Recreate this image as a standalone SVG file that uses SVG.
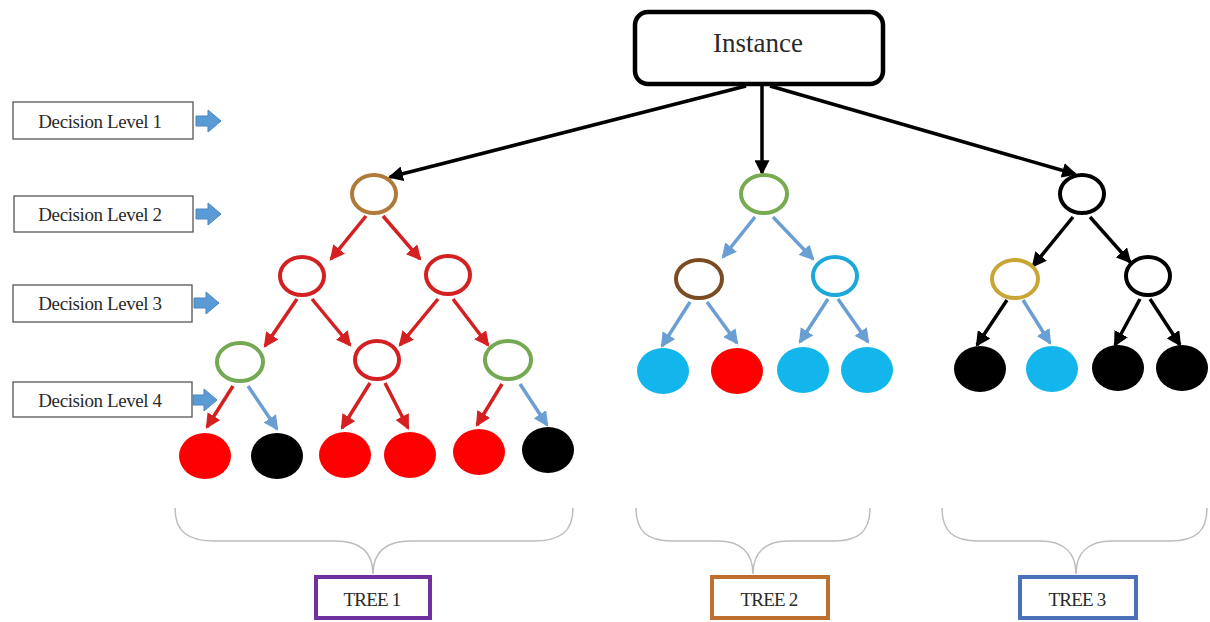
<svg xmlns="http://www.w3.org/2000/svg" width="1210" height="622" viewBox="0 0 1210 622">
  <style>
    .lbl { font-family: "Liberation Serif", "Times New Roman", serif; fill: #2a2a2a; text-anchor: middle; dominant-baseline: central; }
    .lvl rect { fill: #fff; stroke: #555; stroke-width: 1.3; }
    .lvl text { font-size: 19px; letter-spacing: -0.4px; }
    .blk { fill: #5b9bd5; stroke: #4a86c0; stroke-width: 1; }
    .node { fill: #fff; stroke-width: 4; }
    .leaf { stroke: none; }
    .e-red { stroke: #d42020; stroke-width: 3.5; fill: none; marker-end: url(#ahRed); }
    .e-blue { stroke: #6a9fd4; stroke-width: 3.5; fill: none; marker-end: url(#ahBlue); }
    .e-blk { stroke: #000; stroke-width: 3.5; fill: none; marker-end: url(#ahBlk); }
    .brace { fill: none; stroke: #bdbdbd; stroke-width: 1.5; }
    .tree rect { fill: #fff; stroke-width: 4; }
    .tree text { font-size: 19px; letter-spacing: -0.8px; }
  </style>
  <defs>
    <marker id="ahRed" viewBox="0 0 14 14" refX="12" refY="7" markerWidth="15" markerHeight="15" markerUnits="userSpaceOnUse" orient="auto">
      <path d="M0,0 L14,7 L0,14 z" fill="#d42020"/>
    </marker>
    <marker id="ahBlue" viewBox="0 0 14 14" refX="12" refY="7" markerWidth="15" markerHeight="15" markerUnits="userSpaceOnUse" orient="auto">
      <path d="M0,0 L14,7 L0,14 z" fill="#6a9fd4"/>
    </marker>
    <marker id="ahBlk" viewBox="0 0 14 14" refX="12" refY="7" markerWidth="15" markerHeight="15" markerUnits="userSpaceOnUse" orient="auto">
      <path d="M0,0 L14,7 L0,14 z" fill="#000"/>
    </marker>
  </defs>

  <rect width="1210" height="622" fill="#fff"/>

  <!-- Top instance box -->
  <g id="instance">
    <rect x="635" y="12" width="248" height="72" rx="13" fill="#fff" stroke="#000" stroke-width="4.5"/>
    <text class="lbl" x="758" y="43" font-size="27">Instance</text>
  </g>

  <!-- Decision level labels with block arrows -->
  <g id="level1" class="lvl">
    <rect x="13" y="102" width="180" height="37"/>
    <text class="lbl" x="100" y="121">Decision Level 1</text>
    <polygon class="blk" points="196,116 208,116 208,110 221,121 208,132 208,126 196,126"/>
  </g>
  <g id="level2" class="lvl">
    <rect x="14" y="196" width="179" height="36"/>
    <text class="lbl" x="100" y="214">Decision Level 2</text>
    <polygon class="blk" points="196,209 208,209 208,203 221,214 208,225 208,219 196,219"/>
  </g>
  <g id="level3" class="lvl">
    <rect x="13" y="285" width="179" height="37"/>
    <text class="lbl" x="100" y="303">Decision Level 3</text>
    <polygon class="blk" points="194,298 206,298 206,292 219,303 206,314 206,308 194,308"/>
  </g>
  <g id="level4" class="lvl">
    <rect x="13" y="382" width="179" height="35"/>
    <text class="lbl" x="100" y="400">Decision Level 4</text>
    <polygon class="blk" points="193,395 204,395 204,389 217,400 204,411 204,405 193,405"/>
  </g>

  <!-- Connectors -->
  <g id="connectors">
    <!-- from instance -->
    <line class="e-blk" x1="746" y1="86" x2="390" y2="177"/>
    <line class="e-blk" x1="762" y1="86" x2="762" y2="173"/>
    <line class="e-blk" x1="770" y1="86" x2="1075" y2="174"/>
    <!-- tree 1 -->
    <line class="e-red" x1="366" y1="216" x2="331" y2="259"/>
    <line class="e-red" x1="383" y1="216" x2="420" y2="259"/>
    <line class="e-red" x1="297" y1="299" x2="265" y2="346"/>
    <line class="e-red" x1="312" y1="299" x2="350" y2="345"/>
    <line class="e-red" x1="438" y1="299" x2="400" y2="345"/>
    <line class="e-red" x1="453" y1="299" x2="488" y2="345"/>
    <line class="e-red" x1="233" y1="386" x2="207" y2="427"/>
    <line class="e-blue" x1="248" y1="386" x2="277" y2="429"/>
    <line class="e-red" x1="370" y1="383" x2="342" y2="428"/>
    <line class="e-red" x1="385" y1="383" x2="408" y2="428"/>
    <line class="e-red" x1="502" y1="384" x2="477" y2="425"/>
    <line class="e-blue" x1="520" y1="384" x2="547" y2="425"/>
    <!-- tree 2 -->
    <line class="e-blue" x1="755" y1="217" x2="723" y2="257"/>
    <line class="e-blue" x1="773" y1="217" x2="813" y2="259"/>
    <line class="e-blue" x1="690" y1="302" x2="662" y2="346"/>
    <line class="e-blue" x1="707" y1="302" x2="737" y2="343"/>
    <line class="e-blue" x1="828" y1="299" x2="800" y2="342"/>
    <line class="e-blue" x1="838" y1="299" x2="868" y2="342"/>
    <!-- tree 3 -->
    <line class="e-blk" x1="1073" y1="217" x2="1033" y2="266"/>
    <line class="e-blk" x1="1090" y1="217" x2="1130" y2="262"/>
    <line class="e-blk" x1="1007" y1="300" x2="977" y2="345"/>
    <line class="e-blue" x1="1023" y1="300" x2="1050" y2="343"/>
    <line class="e-blk" x1="1140" y1="299" x2="1115" y2="345"/>
    <line class="e-blk" x1="1150" y1="299" x2="1180" y2="345"/>
  </g>

  <!-- Tree 1 nodes -->
  <g id="t1-root"><ellipse class="node" cx="374" cy="194" rx="22" ry="19" stroke="#b07a3a"/></g>
  <g id="t1-l2a"><ellipse class="node" cx="302" cy="276" rx="22" ry="19" stroke="#d42020"/></g>
  <g id="t1-l2b"><ellipse class="node" cx="448" cy="275" rx="22" ry="19" stroke="#d42020"/></g>
  <g id="t1-l3a"><ellipse class="node" cx="240" cy="362" rx="23" ry="19" stroke="#74a852"/></g>
  <g id="t1-l3b"><ellipse class="node" cx="377" cy="360" rx="22" ry="19" stroke="#d42020"/></g>
  <g id="t1-l3c"><ellipse class="node" cx="508" cy="360" rx="23" ry="19" stroke="#74a852"/></g>
  <g id="t1-leaf1"><ellipse class="leaf" cx="205" cy="456" rx="26" ry="23" fill="#f00"/></g>
  <g id="t1-leaf2"><ellipse class="leaf" cx="277" cy="456" rx="26" ry="23" fill="#000"/></g>
  <g id="t1-leaf3"><ellipse class="leaf" cx="345" cy="455" rx="26" ry="23" fill="#f00"/></g>
  <g id="t1-leaf4"><ellipse class="leaf" cx="410" cy="455" rx="26" ry="23" fill="#f00"/></g>
  <g id="t1-leaf5"><ellipse class="leaf" cx="479" cy="452" rx="26" ry="23" fill="#f00"/></g>
  <g id="t1-leaf6"><ellipse class="leaf" cx="548" cy="450" rx="26" ry="23" fill="#000"/></g>

  <!-- Tree 2 nodes -->
  <g id="t2-root"><ellipse class="node" cx="764" cy="194" rx="23" ry="19" stroke="#78aa50"/></g>
  <g id="t2-l2a"><ellipse class="node" cx="699" cy="279" rx="23" ry="19" stroke="#7b4b22"/></g>
  <g id="t2-l2b"><ellipse class="node" cx="835" cy="276" rx="22" ry="19" stroke="#1ca8d8"/></g>
  <g id="t2-leaf1"><ellipse class="leaf" cx="663" cy="371" rx="26" ry="23" fill="#12b5ec"/></g>
  <g id="t2-leaf2"><ellipse class="leaf" cx="737" cy="371" rx="26" ry="23" fill="#f00"/></g>
  <g id="t2-leaf3"><ellipse class="leaf" cx="803" cy="370" rx="26" ry="23" fill="#12b5ec"/></g>
  <g id="t2-leaf4"><ellipse class="leaf" cx="867" cy="370" rx="26" ry="23" fill="#12b5ec"/></g>

  <!-- Tree 3 nodes -->
  <g id="t3-root"><ellipse class="node" cx="1082" cy="194" rx="22" ry="19" stroke="#000"/></g>
  <g id="t3-l2a"><ellipse class="node" cx="1015" cy="279" rx="23" ry="19" stroke="#c8a535"/></g>
  <g id="t3-l2b"><ellipse class="node" cx="1148" cy="276" rx="22" ry="19" stroke="#000"/></g>
  <g id="t3-leaf1"><ellipse class="leaf" cx="980" cy="369" rx="26" ry="23" fill="#000"/></g>
  <g id="t3-leaf2"><ellipse class="leaf" cx="1052" cy="369" rx="26" ry="23" fill="#12b5ec"/></g>
  <g id="t3-leaf3"><ellipse class="leaf" cx="1118" cy="368" rx="26" ry="23" fill="#000"/></g>
  <g id="t3-leaf4"><ellipse class="leaf" cx="1182" cy="368" rx="26" ry="23" fill="#000"/></g>

  <!-- Braces and tree labels -->
  <g id="tree1" class="tree">
    <path class="brace" d="M175,508 C175,532 188,541 215,541 L335,541 C360,541 373,552 373,574 C373,552 386,541 411,541 L533,541 C560,541 573,532 573,508"/>
    <rect x="316" y="577" width="114" height="41" stroke="#7030a0"/>
    <text class="lbl" x="372" y="599">TREE 1</text>
  </g>
  <g id="tree2" class="tree">
    <path class="brace" d="M636,508 C636,532 648,541 672,541 L718,541 C740,541 753,552 753,574 C753,552 766,541 788,541 L834,541 C858,541 870,532 870,508"/>
    <rect x="712" y="577" width="116" height="41" stroke="#c0702e"/>
    <text class="lbl" x="769" y="599">TREE 2</text>
  </g>
  <g id="tree3" class="tree">
    <path class="brace" d="M942,508 C942,532 954,541 978,541 L1040,541 C1063,541 1076,552 1076,574 C1076,552 1089,541 1112,541 L1170,541 C1195,541 1207,532 1207,508"/>
    <rect x="1020" y="577" width="116" height="41" stroke="#4a72b8"/>
    <text class="lbl" x="1077" y="599">TREE 3</text>
  </g>
</svg>
